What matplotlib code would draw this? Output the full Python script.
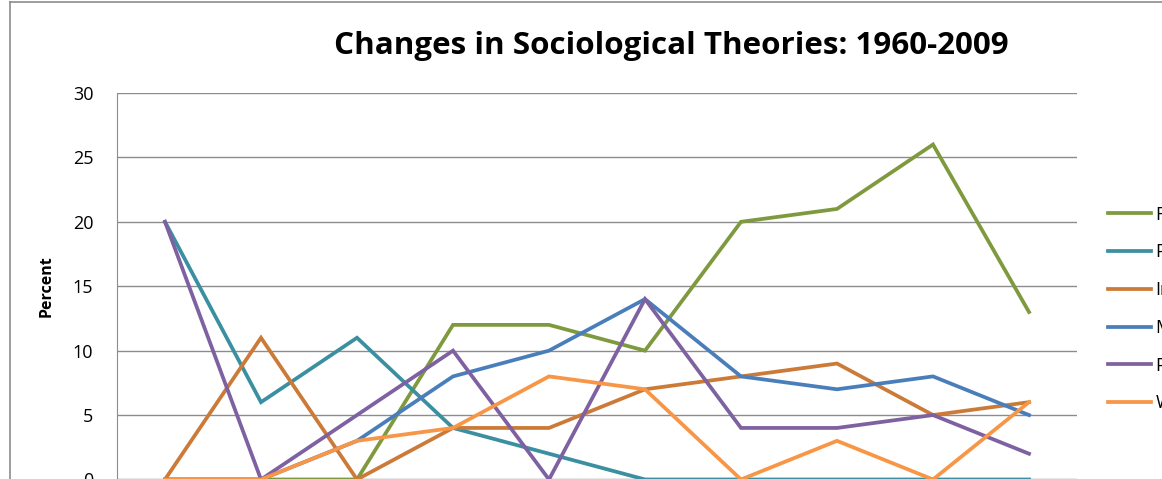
import matplotlib
matplotlib.use("Agg")
import matplotlib.pyplot as plt
from matplotlib.lines import Line2D

plt.rcParams['font.family'] = ['Open Sans', 'DejaVu Sans']

periods = ["1960-64", "1965-69", "1970-74", "1975-79", "1980-84",
           "1985-89", "1990-94", "1995-99", "2000-04", "2005-09"]

functionalism = [0, 0, 0, 12, 12, 10, 20, 21, 26, 13]
positivism = [20, 6, 11, 4, 2, 0, 0, 0, 0, 0]
interactionism = [0, 11, 0, 4, 4, 7, 8, 9, 5, 6]
marxism = [0, 0, 3, 8, 10, 14, 8, 7, 8, 5]
phenomenology = [20, 0, 5, 10, 0, 14, 4, 4, 5, 2]
weberian = [0, 0, 3, 4, 8, 7, 0, 3, 0, 6]

series = [
    ("Functionalism", functionalism, "#7f9a3e"),
    ("Positivism", positivism, "#3a8fa0"),
    ("Interactionism", interactionism, "#cb7a37"),
    ("Marxism", marxism, "#4a7ebb"),
    ("Phenomenology", phenomenology, "#7e61a0"),
    ("Weberian", weberian, "#f79646"),
]

fig = plt.figure(figsize=(11.62, 4.79), dpi=100)
ax = fig.add_axes([117 / 1162, -0.001, 960 / 1162, 0.8069])

x = list(range(len(periods)))
for name, vals, col in series:
    ax.plot(x, vals, color=col, lw=2.7, label=name, solid_joinstyle="miter",
            clip_on=False)

ax.set_xlim(-0.5, len(periods) - 0.5)
ax.set_ylim(0, 30)
ax.set_yticks([0, 5, 10, 15, 20, 25, 30])
# category labels sit below the cropped edge of the original picture
ax.set_xticks(x)
ax.set_xticklabels([])
ax.tick_params(axis="y", length=0, pad=17, labelsize=13)
ax.tick_params(axis="x", length=0)
ax.grid(axis="y", color="#8c8c8c", lw=1)
ax.set_axisbelow(True)
for s in ["top", "right", "bottom"]:
    ax.spines[s].set_visible(False)
ax.spines["left"].set_color("#8c8c8c")

fig.text(47 / 1162, 1 - 286 / 479, "Percent", rotation=90, fontsize=11.5,
         fontweight="bold", ha="center", va="center")
fig.text(671 / 1162, 1 - 46 / 479, "Changes in Sociological Theories: 1960-2009",
         fontsize=22.6, fontweight="bold", ha="center", va="center")

fig.legend(loc="center left", bbox_to_anchor=(1108 / 1162, 1 - 309 / 479),
           frameon=False, fontsize=13, handlelength=2.4, handletextpad=0.22,
           labelspacing=1.09, borderpad=0, borderaxespad=0)

# outer chart border (cropped)
fig.add_artist(Line2D([10 / 1162, 10 / 1162], [0, 1 - 1.5 / 479],
                      color="#8c8c8c", lw=1.2))
fig.add_artist(Line2D([10 / 1162, 1], [1 - 1.5 / 479, 1 - 1.5 / 479],
                      color="#8c8c8c", lw=1.2))

fig.savefig("out.png", dpi=100)
